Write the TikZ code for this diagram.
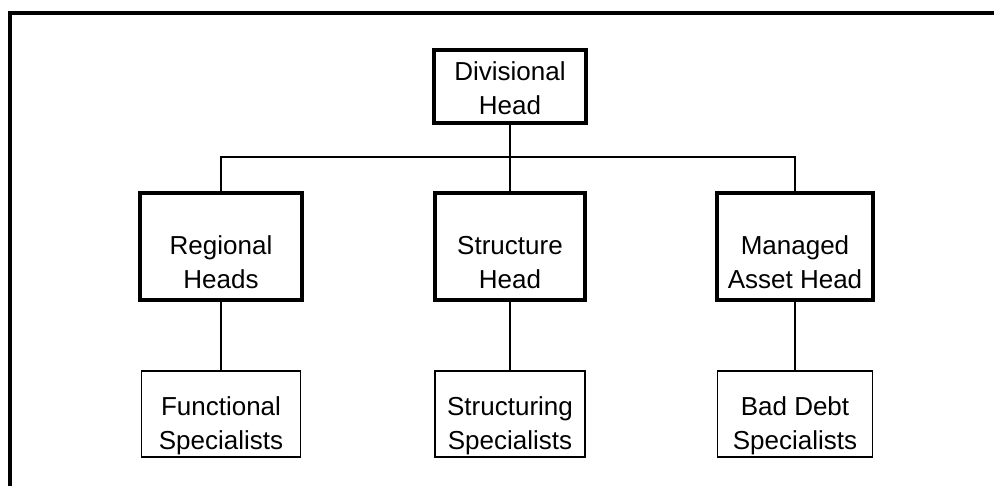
\documentclass[tikz,border=0pt]{standalone}
\usepackage{fontspec}
\setmainfont{Liberation Sans}
\usepackage{tikz}
\usetikzlibrary{positioning}

\tikzset{
  headbox/.style={draw, line width=2.3pt, inner sep=0pt},
  specbox/.style={draw, line width=1.1pt, inner sep=0pt},
  boxtext/.style={align=center, inner sep=0pt, font=\fontsize{14.8}{19.5}\selectfont},
  link/.style={line width=1.1pt}
}

\begin{document}
\begin{tikzpicture}
    \useasboundingbox (0, 0) rectangle (19.88, -9.72);

    % frame, only top and left edges show
    \draw [line width=2.3pt] (19.88, -0.26) -- (0.2, -0.26) -- (0.2, -9.72);

    \node (div) [headbox, minimum width=3.04cm, minimum height=1.46cm,
      label={[boxtext, yshift=-0.03cm]center:Divisional\\Head}] at (10.2, -1.73) {};

    \node (reg) [headbox, minimum width=3.24cm, minimum height=2.14cm,
      label={[boxtext, yshift=-0.32cm]center:Regional\\Heads}] at (4.42, -4.93) {};
    \node (str) [headbox, minimum width=3.0cm, minimum height=2.14cm,
      label={[boxtext, yshift=-0.32cm]center:Structure\\Head}] at (10.2, -4.93) {};
    \node (mah) [headbox, minimum width=3.12cm, minimum height=2.14cm,
      label={[boxtext, yshift=-0.32cm]center:Managed\\Asset Head}] at (15.9, -4.93) {};

    \node (fun) [specbox, minimum width=3.18cm, minimum height=1.72cm,
      label={[boxtext, yshift=-0.24cm]center:Functional\\Specialists}] at (4.42, -8.28) {};
    \node (stsp) [specbox, minimum width=3.0cm, minimum height=1.72cm,
      label={[boxtext, yshift=-0.24cm]center:Structuring\\Specialists}] at (10.2, -8.28) {};
    \node (bad) [specbox, minimum width=3.1cm, minimum height=1.72cm,
      label={[boxtext, yshift=-0.24cm]center:Bad Debt\\Specialists}] at (15.9, -8.28) {};

    \coordinate (bus) at (10.2, -3.14);

    \draw [link] (div.south) -- (str.north);
    \draw [link] (reg.north) |- (bus) -| (mah.north);

    \draw [link] (reg.south) -- (fun.north);
    \draw [link] (str.south) -- (stsp.north);
    \draw [link] (mah.south) -- (bad.north);
  \end{tikzpicture}
\end{document}
